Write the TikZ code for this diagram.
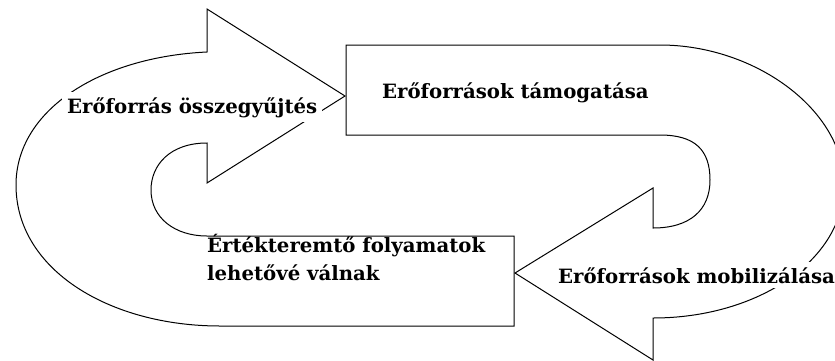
\documentclass[tikz,border=0pt]{standalone}
\usepackage{fontspec}
\setmainfont{DejaVu Serif}
\begin{document}
\begin{tikzpicture}[x=1pt,y=-1pt,
    outline/.style={draw=black,line width=1pt,line join=miter},
    label/.style={font=\bfseries\fontsize{19.7}{28}\selectfont,fill=white,inner sep=5pt,text=black}]
  \useasboundingbox (0,0) rectangle (835,360);
  \begin{scope}
    \clip (0,0) rectangle (835,360);
    % left U-turn arrow, ending in the lower box
    \draw[outline] (345,96) -- (207,9) -- (207,52)
      .. controls (100,57) and (16,110) .. (16,185)
      .. controls (16,270) and (110,326) .. (220,326)
      -- (514,326) -- (514,236) -- (207,236)
      .. controls (175,236) and (151,218) .. (151,190)
      .. controls (151,165) and (170,143) .. (207,143)
      -- (207,183) -- cycle;
    % upper box turning round on the right into the left-pointing arrow
    \draw[outline] (515,273) -- (653,188) -- (653,228)
      .. controls (690,228) and (710,210) .. (710,180)
      .. controls (710,150) and (695,135) .. (660,135)
      -- (346,135) -- (346,45) -- (660,45)
      .. controls (755,45) and (844,110) .. (844,185)
      .. controls (844,260) and (758,318) .. (653,318)
      -- (653,360) -- cycle;
  \end{scope}
  % labels
  \node[label,anchor=base west] (gyujtes) at (62,113) {Erőforrás összegyűjtés};
  \node[label,anchor=base west,fill=none] (tamogatas) at (377,98) {Erőforrások támogatása};
  \node[label,anchor=base west,fill=none,align=left] (ertek) at (202,280)
    {Értékteremtő folyamatok\\lehetővé válnak};
  \node[label,anchor=base west] (mobil) at (553,283) {Erőforrások mobilizálása};
\end{tikzpicture}
\end{document}
